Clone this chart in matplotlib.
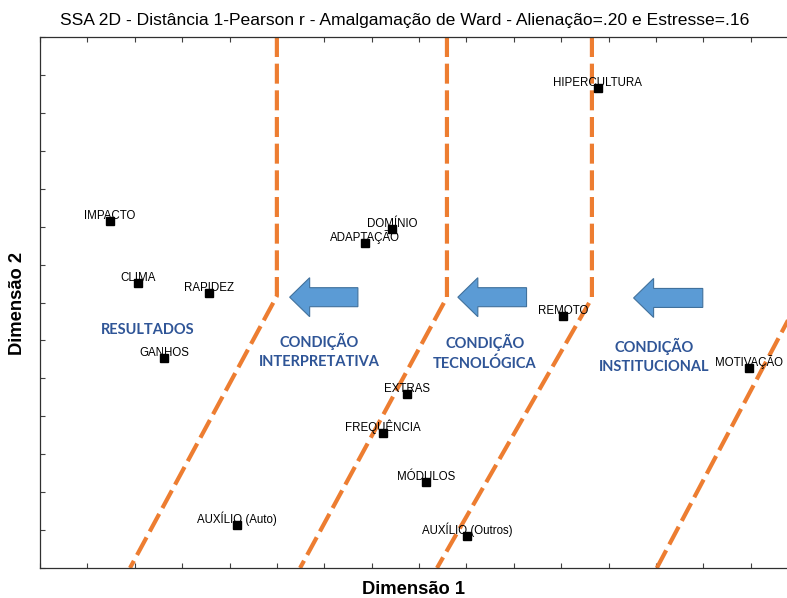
import matplotlib
matplotlib.use('Agg')
import matplotlib.pyplot as plt
from matplotlib.patches import FancyArrow

# pontos do SSA (coordenadas)
nomes = ['HIPERCULTURA', 'IMPACTO', 'CLIMA', 'RAPIDEZ', 'GANHOS', 'DOMÍNIO', 'ADAPTAÇÃO',
         'REMOTO', 'MOTIVAÇÃO', 'EXTRAS', 'FREQUÊNCIA', 'MÓDULOS', 'AUXÍLIO (Auto)', 'AUXÍLIO (Outros)']
dim1 = [11.77, 1.48, 2.07, 3.57, 2.62, 7.43, 6.86, 11.05, 14.96, 7.74, 7.24, 8.14, 4.16, 9.01]
dim2 = [12.66, 9.15, 7.51, 7.25, 5.54, 8.94, 8.57, 6.64, 5.27, 4.59, 3.56, 2.27, 1.13, 0.84]

# fronteiras das regiões (linhas tracejadas)
fronteira1_x = [5.00, 5.00, 1.90]
fronteira1_y = [14.0, 7.17, 0.0]
fronteira2_x = [8.59, 8.59, 5.49]
fronteira2_y = [14.0, 7.14, 0.0]
fronteira3_x = [11.65, 11.65, 8.38]
fronteira3_y = [14.0, 7.12, 0.0]
fronteira4_x = [13.02, 16.03]
fronteira4_y = [0.0, 7.1]

# setas (ponta, cauda, altura)
seta_ponta = [5.27, 8.82, 12.53]
seta_cauda = [6.71, 10.27, 13.99]
seta_y = [7.14, 7.14, 7.12]

# rótulos das regiões
regioes = ['RESULTADOS', 'CONDIÇÃO\nINTERPRETATIVA', 'CONDIÇÃO\nTECNOLÓGICA', 'CONDIÇÃO\nINSTITUCIONAL']
regioes_x = [2.28, 5.89, 9.39, 12.97]
regioes_y = [6.27, 5.73, 5.69, 5.59]

laranja = '#ED7D31'
azul = '#5B9BD5'
azul_borda = '#41719C'
azul_texto = '#2F5597'

fig = plt.figure(figsize=(7.87, 5.98), dpi=100)
ax = fig.add_axes([40 / 787, 30 / 598, 758 / 787, 531 / 598])

for fx, fy in [(fronteira1_x, fronteira1_y), (fronteira2_x, fronteira2_y),
               (fronteira3_x, fronteira3_y), (fronteira4_x, fronteira4_y)]:
    ln, = ax.plot(fx, fy, color=laranja, lw=3.0, zorder=2)
    ln.set_dashes([4.8, 1.6])
    ln.set_dash_capstyle('butt')

for p, c, y in zip(seta_ponta, seta_cauda, seta_y):
    hl = 20 / 47.4
    ax.add_patch(FancyArrow(c, y, p - c, 0, width=19 / 37.93, head_width=39 / 37.93,
                            head_length=hl, length_includes_head=True,
                            facecolor=azul, edgecolor=azul_borda, lw=0.8, zorder=3))

ax.plot(dim1, dim2, 's', color='black', markersize=6.3, zorder=4)
for n, x, y in zip(nomes, dim1, dim2):
    ax.annotate(n, (x, y), xytext=(0, 1.3), textcoords='offset points', ha='center',
                va='baseline', fontsize=8.3, family='Liberation Sans',
                color='black', zorder=5)

for t, x, y in zip(regioes, regioes_x, regioes_y):
    ax.text(x, y, t, ha='center', va='center', fontsize=10.5, fontweight='bold',
            family='Lato', color=azul_texto, linespacing=1.45, zorder=5)

ax.set_xlim(0, 16)
ax.set_ylim(0, 14)
ax.set_xticks(range(0, 17))
ax.set_yticks(range(0, 15))
ax.tick_params(direction='in', length=3.5, width=0.8, top=True, right=True,
               labelbottom=False, labelleft=False, colors='#404040')
for s in ax.spines.values():
    s.set_linewidth(0.9)
    s.set_color('#303030')

fig.text(405 / 787, 1 - 20 / 598, 'SSA 2D - Distância 1-Pearson r - Amalgamação de Ward - Alienação=.20 e Estresse=.16',
         ha='center', va='center', fontsize=12.6, family='Liberation Sans')
fig.text(414 / 787, 1 - 590 / 598, 'Dimensão 1', ha='center', va='center', fontsize=13.2,
         fontweight='bold', family='Liberation Sans')
fig.text(18 / 787, 1 - 303 / 598, 'Dimensão 2', ha='center', va='center', rotation=90,
         fontsize=13.2, fontweight='bold', family='Liberation Sans')

fig.savefig('out.png', dpi=100)
